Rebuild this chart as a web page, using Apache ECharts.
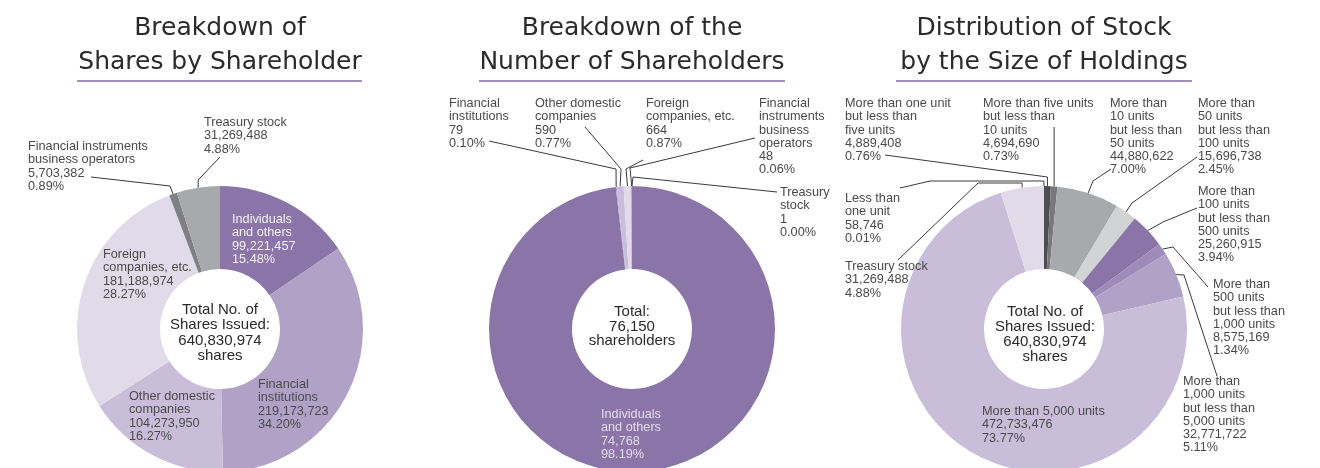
<!DOCTYPE html>
<html>
<head>
<meta charset="utf-8">
<style>
  html, body { margin: 0; padding: 0; background: #fff; }
  #chart { width: 1320px; height: 468px; }
</style>
<script src="https://cdn.jsdelivr.net/npm/echarts@6/dist/echarts.min.js"></script>
</head>
<body>
<div id="chart"></div>
<script>
// Breakdown of shares by shareholder
const shareNames = ['Individuals\nand others', 'Financial\ninstitutions', 'Other domestic\ncompanies', 'Foreign\ncompanies, etc.', 'Financial instruments\nbusiness operators', 'Treasury stock'];
const shareValues = [99221457, 219173723, 104273950, 181188974, 5703382, 31269488];
const sharePercents = ['15.48%', '34.20%', '16.27%', '28.27%', '0.89%', '4.88%'];

// Breakdown of the number of shareholders
const holderNames = ['Individuals\nand others', 'Financial\ninstitutions', 'Other domestic\ncompanies', 'Foreign\ncompanies, etc.', 'Financial\ninstruments\nbusiness\noperators', 'Treasury\nstock'];
const holderValues = [74768, 79, 590, 664, 48, 1];
const holderPercents = ['98.19%', '0.10%', '0.77%', '0.87%', '0.06%', '0.00%'];

// Distribution of stock by the size of holdings
const sizeNames = [
  'More than one unit\nbut less than\nfive units',
  'More than five units\nbut less than\n10 units',
  'More than\n10 units\nbut less than\n50 units',
  'More than\n50 units\nbut less than\n100 units',
  'More than\n100 units\nbut less than\n500 units',
  'More than\n500 units\nbut less than\n1,000 units',
  'More than\n1,000 units\nbut less than\n5,000 units',
  'More than 5,000 units',
  'Treasury stock',
  'Less than\none unit'
];
const sizeValues = [4889408, 4694690, 44880622, 15696738, 25260915, 8575169, 32771722, 472733476, 31269488, 58746];
const sizePercents = ['0.76%', '0.73%', '7.00%', '2.45%', '3.94%', '1.34%', '5.11%', '73.77%', '4.88%', '0.01%'];

const titles = ['Breakdown of\nShares by Shareholder', 'Breakdown of the\nNumber of Shareholders', 'Distribution of Stock\nby the Size of Holdings'];

// slice colours
const shareColors = ['#8b74a7', '#b1a1c6', '#c9bdd9', '#e1dbe9', '#7f8083', '#a8a9ac'];
const holderColors = ['#8b74a7', '#b1a1c6', '#c9bdd9', '#e1dbe9', '#7f8083', '#a8a9ac'];
const sizeColors = ['#4d4e50', '#77787b', '#a8a9ac', '#d2d3d5', '#8b74a7', '#9e8bb9', '#b1a1c6', '#c9bdd9', '#e1dbe9', '#e1dbe9'];

const TEXT = '#4a4a4c';

// label placement (top-left of text) and leader line bends; null x = follow the anchor
const sharePlace = [
  { x: 232, y: 213, inside: true, color: '#f4f1f8' },
  { x: 258, y: 378, inside: true },
  { x: 129, y: 390, inside: true },
  { x: 103, y: 248, inside: true },
  { x: 28, y: 140, line: [[170, 186], [91, 177]] },
  { x: 204, y: 116, line: [[null, 180], [220, 157]] }
];
const holderPlace = [
  { x: 601, y: 408, inside: true, color: '#e3dcec' },
  { x: 449, y: 97, line: [[616, 169], [489, 141]] },
  { x: 535, y: 97, line: [[621, 169], [585, 127]] },
  { x: 646, y: 97, line: [[626, 169], [643, 160]] },
  { x: 759, y: 97, line: [[630, 168], [755, 138]] },
  { x: 780, y: 186, line: [[633, 177], [777, 192]] }
];
const sizePlace = [
  { x: 845, y: 97, line: [[null, 177], [885, 155]] },
  { x: 983, y: 97, line: [[null, 150], [null, 127]] },
  { x: 1110, y: 97, line: [[1093, 181], [1111, 169]] },
  { x: 1198, y: 97, line: [[1132, 203], [1197, 157]] },
  { x: 1198, y: 185, line: [[1163, 222], [1197, 208]] },
  { x: 1213, y: 278, line: [[1173, 247], [1208, 287]] },
  { x: 1183, y: 375, line: [[1184, 275], [1217, 376]] },
  { x: 982, y: 405, inside: true },
  { x: 845, y: 260, line: [[null, 183], [978, 183], [898, 260]] },
  { x: 845, y: 192, line: [[null, 181], [930, 181], [900, 188]] }
];

const CY = 329;
const fmt = v => v.toLocaleString('en-US');
const sum = arr => arr.reduce((a, b) => a + b, 0);

function donut(cx, names, values, percents, colors, place) {
  return {
    type: 'pie',
    center: [cx, CY],
    radius: [60, 143],
    startAngle: 90,
    clockwise: true,
    silent: true,
    animation: false,
    avoidLabelOverlap: false,
    minShowLabelAngle: 0,
    label: {
      show: true,
      position: 'outside',
      fontFamily: 'Liberation Sans',
      fontSize: 12.7,
      lineHeight: 13.2,
      color: TEXT,
      formatter: p => names[p.dataIndex] + '\n' + fmt(values[p.dataIndex]) + '\n' + percents[p.dataIndex]
    },
    labelLine: { show: true, lineStyle: { color: '#3a3a3c', width: 1 } },
    labelLayout: function (p) {
      const s = place[p.dataIndex];
      const out = { x: s.x, y: s.y, align: 'left', verticalAlign: 'top' };
      if (s.line && p.labelLinePoints) {
        const a = p.labelLinePoints[0];
        out.labelLinePoints = [[a[0], a[1]]].concat(
          s.line.map(q => [q[0] == null ? a[0] : q[0], q[1]])
        );
      }
      return out;
    },
    data: values.map((v, i) => ({
      name: names[i],
      value: v,
      itemStyle: { color: colors[i] },
      label: place[i].inside
        ? { position: 'inside', color: place[i].color || TEXT }
        : { position: 'outside' },
      labelLine: { show: !place[i].inside }
    }))
  };
}

const centers = [220, 632, 1044];
const underlines = [[77, 362], [479, 785], [896, 1192]];
const centerTexts = [
  { text: 'Total No. of\nShares Issued:\n' + fmt(sum(shareValues)) + '\nshares', y: 333, lh: 15.5 },
  { text: 'Total:\n' + fmt(sum(holderValues)) + '\nshareholders', y: 326.5, lh: 14.5 },
  { text: 'Total No. of\nShares Issued:\n' + fmt(sum(sizeValues)) + '\nshares', y: 334, lh: 15 }
];

const graphics = [];
titles.forEach((t, i) => {
  graphics.push({
    type: 'text', x: centers[i], y: 11, silent: true,
    style: { text: t, font: '25px "DejaVu Sans"', fill: '#2b2b2b', align: 'center', verticalAlign: 'top', lineHeight: 34 }
  });
  graphics.push({
    type: 'line', silent: true,
    shape: { x1: underlines[i][0], y1: 81, x2: underlines[i][1], y2: 81 },
    style: { stroke: '#a190bd', lineWidth: 2 }
  });
  graphics.push({
    type: 'text', x: centers[i] + (i === 2 ? 1 : 0), y: centerTexts[i].y, silent: true, z: 10,
    style: { text: centerTexts[i].text, font: '15px "Liberation Sans"', fill: '#2b2b2b', align: 'center', verticalAlign: 'middle', lineHeight: centerTexts[i].lh }
  });
});

const chart = echarts.init(document.getElementById('chart'));
chart.setOption({
  backgroundColor: '#ffffff',
  animation: false,
  graphic: graphics,
  series: [
    donut(centers[0], shareNames, shareValues, sharePercents, shareColors, sharePlace),
    donut(centers[1], holderNames, holderValues, holderPercents, holderColors, holderPlace),
    donut(centers[2], sizeNames, sizeValues, sizePercents, sizeColors, sizePlace)
  ]
});
</script>
</body>
</html>
